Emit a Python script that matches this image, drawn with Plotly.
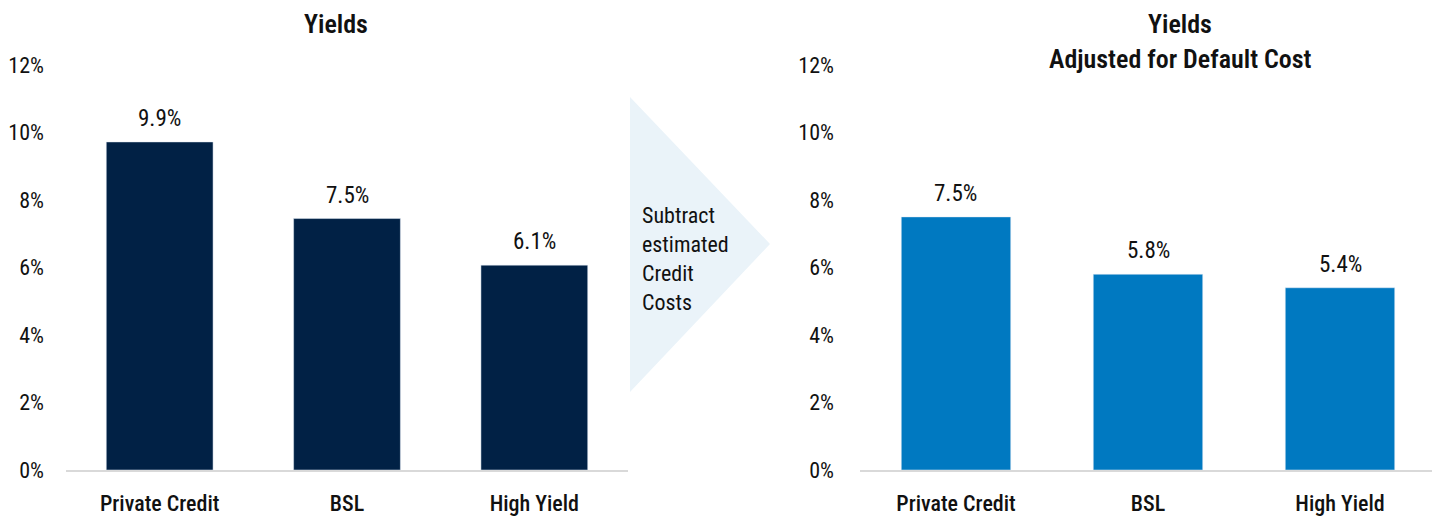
import plotly.graph_objects as go

categories = ["Private Credit", "BSL", "High Yield"]
yields_values = [9.72, 7.45, 6.07]
yields_labels = ["9.9%", "7.5%", "6.1%"]
adjusted_values = [7.5, 5.8, 5.4]
adjusted_labels = ["7.5%", "5.8%", "5.4%"]
tick_vals = [0, 2, 4, 6, 8, 10, 12]
tick_text = ["0%", "2%", "4%", "6%", "8%", "10%", "12%"]
arrow_lines = ["Subtract", "estimated", "Credit", "Costs"]

FONT = "Roboto Condensed, DejaVu Sans Condensed, sans-serif"
OFF = 8  # page body margin
W, H = 1440 - OFF, 519 - OFF
BASE = 470  # screen y of the zero line
TOP = 65    # screen y of 12%
T = TOP - OFF
B = H - (BASE - OFF)
PH = BASE - TOP

def px(x):
    return (x - OFF) / W

def py(y):
    return (BASE - y) / PH

fig = go.Figure()
fig.add_trace(go.Bar(x=categories, y=yields_values, marker_color="#012145",
                     width=0.57, xaxis="x", yaxis="y", hoverinfo="skip"))
fig.add_trace(go.Bar(x=categories, y=adjusted_values, marker_color="#0079C1",
                     width=0.57, xaxis="x2", yaxis="y2", hoverinfo="skip"))

ann = []
lab_font = dict(size=23, color="#111", family=FONT)
for c, v, t in zip(categories, yields_values, yields_labels):
    ann.append(dict(x=c, y=v, xref="x", yref="y", text=t, showarrow=False,
                    yanchor="bottom", yshift=8, font=lab_font))
for c, v, t in zip(categories, adjusted_values, adjusted_labels):
    ann.append(dict(x=c, y=v, xref="x2", yref="y2", text=t, showarrow=False,
                    yanchor="bottom", yshift=8, font=lab_font))

title_font = dict(size=26, color="#111", family=FONT, weight=600)
ann.append(dict(x=px(336), y=py(24), xref="paper", yref="paper", text="Yields",
                showarrow=False, xanchor="center", yanchor="middle", font=title_font))
ann.append(dict(x=px(1180), y=py(24), xref="paper", yref="paper", text="Yields",
                showarrow=False, xanchor="center", yanchor="middle", font=title_font))
ann.append(dict(x=px(1180), y=py(59), xref="paper", yref="paper", text="Adjusted for Default Cost",
                showarrow=False, xanchor="center", yanchor="middle", font=title_font))
for i, line in enumerate(arrow_lines):
    ann.append(dict(x=px(640), y=py(215 + 29 * i), xref="paper", yref="paper", text=line,
                    showarrow=False, xanchor="left", yanchor="middle", align="left",
                    font=dict(size=22, color="#111", family=FONT)))

tri = f"M {px(630)} {py(97)} L {px(630)} {py(392)} L {px(770)} {py(244)} Z"

axis_common = dict(showgrid=False, zeroline=False, showline=True, linecolor="#D9D9D9",
                   linewidth=2, ticks="", ticklabelstandoff=13,
                   tickfont=dict(size=22, color="#111", family=FONT, weight=500),
                   fixedrange=True)
yaxis_common = dict(range=[0, 12], tickvals=tick_vals, ticktext=tick_text, showgrid=False,
                    zeroline=False, showline=False, ticks="",
                    tickfont=dict(size=22, color="#111", family=FONT), automargin=False,
                    fixedrange=True)

fig.update_layout(
    width=W, height=H,
    margin=dict(l=0, r=0, t=T, b=B),
    paper_bgcolor="white", plot_bgcolor="white",
    showlegend=False,
    xaxis=dict(domain=[px(66), px(628)], anchor="y", **axis_common),
    xaxis2=dict(domain=[px(860), px(1436)], anchor="y2", **axis_common),
    yaxis=dict(anchor="x", ticklabelstandoff=21, **yaxis_common),
    yaxis2=dict(anchor="x2", ticklabelstandoff=25, **yaxis_common),
    annotations=ann,
    shapes=[dict(type="path", path=tri, xref="paper", yref="paper",
                 fillcolor="#EAF3F9", line=dict(width=0), layer="below")],
)

fig.write_html("out.html")
